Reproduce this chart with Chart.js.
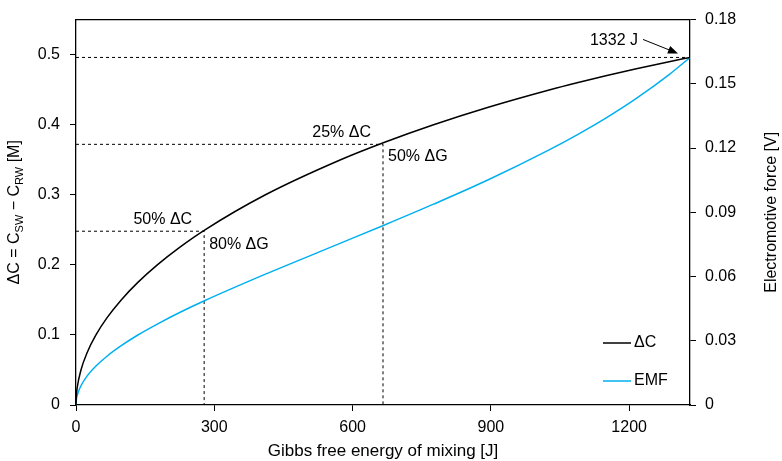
<!DOCTYPE html>
<html>
<head>
<meta charset="utf-8">
<script src="https://cdn.jsdelivr.net/npm/chart.js@4.4.1/dist/chart.umd.min.js"></script>
<style>
  html, body { margin: 0; padding: 0; background: #fff; }
  #wrap { width: 782px; height: 461px; }
</style>
</head>
<body>
<div id="wrap"><canvas id="c" width="782" height="461"></canvas></div>
<script>
// Gibbs free energy of mixing [J] at each sampled state
const gibbsJ = [0, 0.67, 2.69, 10.77, 24.28, 43.27, 67.85, 98.1, 134.2, 176.4, 224.8, 279.8,
                411.0, 574.1, 669.5, 775.7, 894.5, 1028.4, 1087.1, 1149.4, 1215.6, 1286.7, 1332];
// Concentration difference ΔC = C_SW − C_RW [M]
const deltaC = [0, 0.0125, 0.025, 0.05, 0.075, 0.1, 0.125, 0.15, 0.175, 0.2, 0.225, 0.25,
                0.3, 0.35, 0.375, 0.4, 0.425, 0.45, 0.46, 0.47, 0.48, 0.49, 0.496];
// Electromotive force [V]
const emfV = [0, 0.0022, 0.0045, 0.0090, 0.0136, 0.0182, 0.0229, 0.0277, 0.0327, 0.0378, 0.0432, 0.0488,
              0.0611, 0.0756, 0.0841, 0.0938, 0.1052, 0.1194, 0.1262, 0.1340, 0.1432, 0.1543, 0.1623];

// Reference states: full ΔC, 75 % of ΔC, 50 % of ΔC
const refGibbs = [1332, 666, 278];
const refDeltaC = [0.496, 0.372, 0.248];

// Axis ticks
const xTicks = [0, 300, 600, 900, 1200];
const leftTicks = [0, 0.1, 0.2, 0.3, 0.4, 0.5];
const rightTicks = [0, 0.03, 0.06, 0.09, 0.12, 0.15, 0.18];

const FONT = "'Liberation Sans', Arial, sans-serif";
const BLUE = '#00B0F0';

const pts = (xs, ys) => xs.map((x, i) => ({ x: x, y: ys[i] }));

const dashStyle = {
  showLine: true, borderColor: '#000', borderWidth: 1, borderDash: [3, 3],
  pointRadius: 0, tension: 0, yAxisID: 'y', order: 5
};

const datasets = [
  { label: 'ΔC', data: pts(gibbsJ, deltaC), yAxisID: 'y', showLine: true,
    borderColor: '#000', borderWidth: 1.5, pointRadius: 0,
    cubicInterpolationMode: 'monotone', order: 1 },
  { label: 'EMF', data: pts(gibbsJ, emfV), yAxisID: 'y1', showLine: true,
    borderColor: BLUE, borderWidth: 1.5, pointRadius: 0,
    cubicInterpolationMode: 'monotone', order: 2 },
  Object.assign({ label: 'ref0', data: [{ x: 0, y: refDeltaC[0] }, { x: refGibbs[0], y: refDeltaC[0] }] }, dashStyle),
  Object.assign({ label: 'ref1', data: [{ x: 0, y: refDeltaC[1] }, { x: refGibbs[1], y: refDeltaC[1] }, { x: refGibbs[1], y: 0 }] }, dashStyle),
  Object.assign({ label: 'ref2', data: [{ x: 0, y: refDeltaC[2] }, { x: refGibbs[2], y: refDeltaC[2] }, { x: refGibbs[2], y: 0 }] }, dashStyle)
];

const tickFont = { family: FONT, size: 16 };
const fmt = v => String(+Number(v).toFixed(2));

function axisCommon(list, padding) {
  return {
    grid: { drawOnChartArea: false, drawTicks: true, tickLength: 6, color: '#000', lineWidth: 1 },
    border: { display: true, color: '#000', width: 1.3 },
    ticks: { font: tickFont, color: '#000', padding: padding, maxRotation: 0, autoSkip: false, callback: fmt },
    afterBuildTicks: s => { s.ticks = list.map(v => ({ value: v })); }
  };
}

// Titles with subscripts, frame top edge, legend and annotations
const decor = {
  id: 'decor',
  afterDraw(chart) {
    const { ctx, chartArea: a, scales } = chart;
    const X = scales.x, YL = scales.y;
    ctx.save();

    // top edge of the frame
    ctx.strokeStyle = '#000';
    ctx.lineWidth = 1.3;
    ctx.beginPath();
    ctx.moveTo(a.left, a.top);
    ctx.lineTo(a.right, a.top);
    ctx.stroke();

    ctx.fillStyle = '#000';
    ctx.textBaseline = 'middle';

    // x axis title
    ctx.font = `17px ${FONT}`;
    ctx.textAlign = 'center';
    ctx.fillText('Gibbs free energy of mixing [J]', (a.left + a.right) / 2, 451);

    // rotated rich text (segments: [text, isSubscript])
    function rotatedRich(segs, cx, cy) {
      ctx.save();
      ctx.translate(cx, cy);
      ctx.rotate(-Math.PI / 2);
      ctx.textAlign = 'left';
      let total = 0;
      const widths = segs.map(([t, sub]) => {
        ctx.font = `${sub ? 11 : 16}px ${FONT}`;
        const w = ctx.measureText(t).width;
        total += w;
        return w;
      });
      let x = -total / 2;
      segs.forEach(([t, sub], i) => {
        ctx.font = `${sub ? 11 : 16}px ${FONT}`;
        ctx.fillText(t, x, sub ? 5 : 0);
        x += widths[i];
      });
      ctx.restore();
    }
    rotatedRich([['ΔC = C', 0], ['SW', 1], [' − C', 0], ['RW', 1], [' [M]', 0]], 15, (a.top + a.bottom) / 2);
    rotatedRich([['Electromotive force [V]', 0]], 772, (a.top + a.bottom) / 2);

    // legend
    const legendItems = chart.data.datasets.slice(0, 2);
    legendItems.forEach((ds, i) => {
      const y = 343 + i * 38;
      ctx.strokeStyle = ds.borderColor;
      ctx.lineWidth = 1.5;
      ctx.beginPath();
      ctx.moveTo(603, y);
      ctx.lineTo(631, y);
      ctx.stroke();
      ctx.font = `16px ${FONT}`;
      ctx.textAlign = 'left';
      ctx.fillStyle = '#000';
      ctx.fillText(ds.label, 634, y);
    });

    // annotations
    ctx.font = `16px ${FONT}`;
    const p1x = X.getPixelForValue(refGibbs[1]), p1y = YL.getPixelForValue(refDeltaC[1]);
    const p2x = X.getPixelForValue(refGibbs[2]), p2y = YL.getPixelForValue(refDeltaC[2]);
    ctx.textAlign = 'right';
    ctx.fillText('50% ΔC', p2x - 12, p2y - 12);
    ctx.fillText('25% ΔC', p1x - 12, p1y - 12);
    ctx.textAlign = 'left';
    ctx.fillText('80% ΔG', p2x + 5, p2y + 13);
    ctx.fillText('50% ΔG', p1x + 5, p1y + 12);

    // end-point label with arrow
    const p0x = X.getPixelForValue(refGibbs[0]), p0y = YL.getPixelForValue(refDeltaC[0]);
    ctx.textAlign = 'right';
    ctx.fillText(refGibbs[0] + ' J', p0x - 52, p0y - 17);
    const sx = p0x - 47, sy = p0y - 18, tx = p0x - 12, ty = p0y - 4;
    const ang = Math.atan2(ty - sy, tx - sx);
    ctx.strokeStyle = '#000';
    ctx.lineWidth = 1;
    ctx.beginPath();
    ctx.moveTo(sx, sy);
    ctx.lineTo(tx - 8 * Math.cos(ang), ty - 8 * Math.sin(ang));
    ctx.stroke();
    ctx.beginPath();
    ctx.moveTo(tx, ty);
    ctx.lineTo(tx - 10 * Math.cos(ang) + 4 * Math.sin(ang), ty - 10 * Math.sin(ang) - 4 * Math.cos(ang));
    ctx.lineTo(tx - 10 * Math.cos(ang) - 4 * Math.sin(ang), ty - 10 * Math.sin(ang) + 4 * Math.cos(ang));
    ctx.closePath();
    ctx.fill();

    ctx.restore();
  }
};

new Chart(document.getElementById('c'), {
  type: 'scatter',
  data: { datasets: datasets },
  options: {
    responsive: false,
    animation: false,
    events: [],
    layout: { padding: { top: 15, left: 0, right: 0, bottom: 0 } },
    plugins: { legend: { display: false }, tooltip: { enabled: false }, title: { display: false } },
    scales: {
      x: Object.assign(axisCommon(xTicks, 7), {
        type: 'linear', position: 'bottom', min: 0, max: 1332,
        afterFit: s => { s.height = 56; }
      }),
      y: Object.assign(axisCommon(leftTicks, 10), {
        type: 'linear', position: 'left', min: 0, max: 0.55,
        afterFit: s => { s.width = 76; }
      }),
      y1: Object.assign(axisCommon(rightTicks, 9), {
        type: 'linear', position: 'right', min: 0, max: 0.18,
        afterFit: s => { s.width = 92; }
      })
    }
  },
  plugins: [decor]
});
</script>
</body>
</html>
